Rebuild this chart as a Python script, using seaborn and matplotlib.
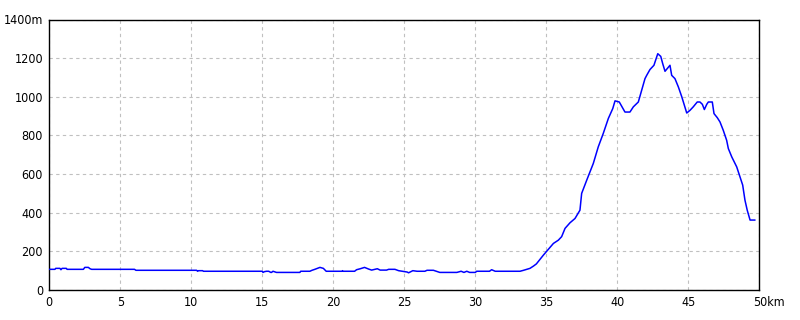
import matplotlib
matplotlib.use("Agg")
import matplotlib.pyplot as plt
import matplotlib.transforms as mtransforms
import seaborn as sns
import pandas as pd

dist_km = [0.0, 0.4, 0.45, 0.75, 0.82, 0.9, 1.2, 1.25, 2.4, 2.5, 2.75, 2.87, 2.98, 6.0, 6.1, 6.15,
           10.37, 10.45, 10.5, 10.8, 10.85, 15.0, 15.05, 15.15, 15.3, 15.45, 15.6, 15.65, 15.75,
           16.0, 17.65, 17.7, 18.35, 18.5, 18.7, 19.06, 19.3, 19.5, 20.6, 20.65, 20.7, 21.5,
           21.64, 21.9, 22.2, 22.5, 22.7, 23.1, 23.3, 23.75, 23.9, 24.34, 24.6, 25.2, 25.3,
           25.6, 25.9, 26.45, 26.6, 27.05, 27.5, 28.7, 29.0, 29.2, 29.4, 29.6, 30.0, 30.1,
           31.0, 31.15, 31.4, 33.15, 33.4, 33.85, 34.1, 34.3, 34.55, 34.8, 35.0, 35.25, 35.5,
           35.85, 36.08, 36.32, 36.67, 37.02, 37.37, 37.49, 37.85, 38.31, 38.66, 39.01, 39.37,
           39.68, 39.84, 40.14, 40.54, 40.89, 41.13, 41.48, 41.72, 41.95, 42.07, 42.3, 42.58,
           42.73, 42.85, 43.06, 43.2, 43.36, 43.52, 43.71, 43.83, 44.06, 44.3, 44.54, 44.72,
           44.89, 45.12, 45.35, 45.63, 45.82, 45.99, 46.13, 46.3, 46.41, 46.69, 46.81, 47.04,
           47.23, 47.46, 47.7, 47.82, 48.06, 48.41, 48.64, 48.83, 48.99, 49.15, 49.35, 49.7]
elev_m = [107, 107, 112, 112, 105, 112, 112, 107, 107, 117, 117, 110, 107, 107, 102, 102,
          102, 97, 100, 100, 97, 97, 91, 95, 97, 97, 91, 91, 97,
          91, 91, 97, 97, 102, 107, 117, 112, 97, 97, 100, 97, 97,
          105, 110, 117, 108, 103, 110, 103, 103, 107, 107, 100, 93, 89,
          100, 97, 97, 102, 102, 91, 91, 97, 91, 97, 91, 91, 97,
          97, 105, 97, 97, 102, 112, 124, 135, 158, 181, 198, 219, 241,
          258, 276, 319, 348, 370, 413, 500, 569, 655, 741, 810, 888,
          939, 979, 973, 921, 921, 948, 973, 1034, 1094, 1111, 1141, 1163,
          1197, 1223, 1209, 1171, 1132, 1146, 1163, 1111, 1094, 1051, 1000, 956,
          916, 930, 948, 973, 973, 961, 934, 961, 973, 973, 913, 892,
          870, 827, 775, 732, 689, 637, 586, 543, 465, 413, 362, 362]

x_ticks = [0, 5, 10, 15, 20, 25, 30, 35, 40, 45, 50]
x_tick_labels = ["0", "5", "10", "15", "20", "25", "30", "35", "40", "45", "50km"]
y_ticks = [0, 200, 400, 600, 800, 1000, 1200, 1400]
y_tick_labels = ["0", "200", "400", "600", "800", "1000", "1200", "1400m"]

df = pd.DataFrame({"km": dist_km, "m": elev_m})

sns.set_style("white")
plt.rcParams["font.family"] = ["DejaVu Sans"]
plt.rcParams["font.stretch"] = "condensed"

fig = plt.figure(figsize=(8, 3.2), dpi=100)
ax = fig.add_axes([49.3 / 800, 1 - 290 / 320, (759.3 - 49.3) / 800, (290 - 19.5) / 320])

sns.lineplot(data=df, x="km", y="m", ax=ax, color="#0000ff", linewidth=1.1,
             estimator=None, sort=False, zorder=3)

ax.set_xlim(0, 50)
ax.set_ylim(0, 1400)
ax.set_xticks(x_ticks)
ax.set_xticklabels(x_tick_labels)
ax.set_yticks(y_ticks)
ax.set_yticklabels(y_tick_labels)
ax.set_xlabel("")
ax.set_ylabel("")
ax.tick_params(axis="both", length=0, pad=4.5, labelsize=9, colors="black")

ax.grid(True, color="#c0c0c0", linestyle=(0, (3, 3)), linewidth=0.8)
for s in ax.spines.values():
    s.set_visible(True)
    s.set_color("black")
    s.set_linewidth(1.0)

# "50km": keep "50" centred on the tick, let "km" extend to the right
lbl = ax.get_xticklabels()[-1]
lbl.set_horizontalalignment("left")
lbl.set_transform(lbl.get_transform() + mtransforms.ScaledTranslation(-6 / 100, 0, fig.dpi_scale_trans))

fig.savefig("out.png", dpi=100)
